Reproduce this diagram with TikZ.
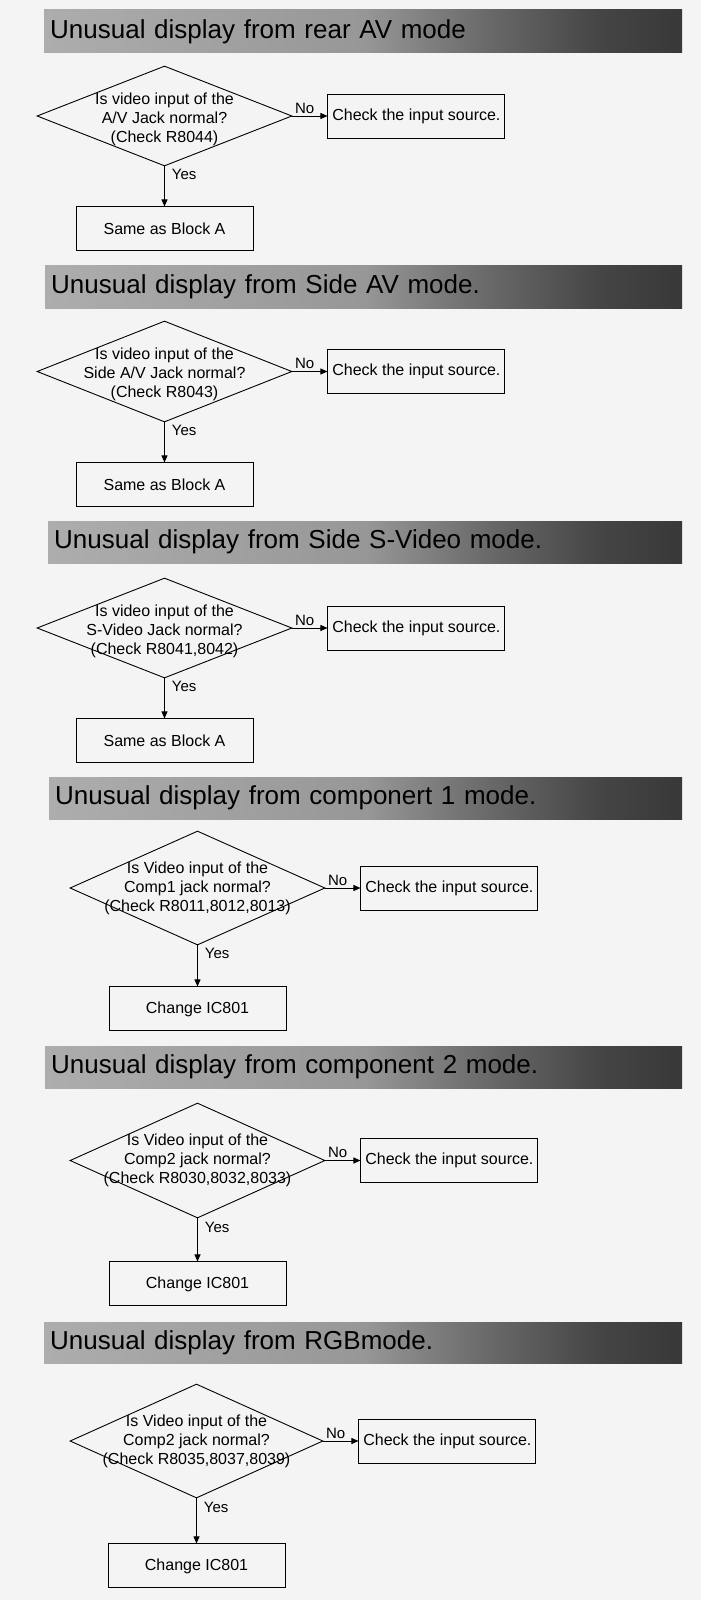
\documentclass[tikz,border=0pt]{standalone}
\usepackage{fontspec}
\setmainfont{Liberation Sans}
\usepackage{tikz}
\usetikzlibrary{arrows.meta, positioning, shapes.geometric}
\definecolor{pagebg}{HTML}{F4F4F4}
\definecolor{barL}{HTML}{ADADAD}
\definecolor{barM}{HTML}{979797}
\definecolor{barN}{HTML}{686868}
\definecolor{barD}{HTML}{454545}
\definecolor{barR}{HTML}{383838}
\pgfdeclarehorizontalshading{barshade}{100bp}{color(0bp)=(barL); color(25bp)=(barL);
  color(50bp)=(barM); color(60bp)=(barN); color(68.5bp)=(barD); color(75bp)=(barR); color(100bp)=(barR)}
\tikzset{
  hdr/.style  = {anchor=west, shading=barshade, inner xsep=6pt, inner ysep=0pt,
                 align=left, font=\fontsize{26}{28}\selectfont},
  dec/.style  = {diamond, draw, line width=0.9pt, inner sep=0pt, minimum width=255pt},
  qtxt/.style = {align=center, inner sep=0pt, font=\fontsize{16}{19}\selectfont},
  blk/.style  = {draw, line width=0.9pt, minimum width=177pt, minimum height=44pt,
                 inner sep=2pt, font=\fontsize{16}{19}\selectfont},
  flow/.style = {-{Triangle[length=7pt, width=6pt]}, line width=0.9pt},
  lbl/.style  = {font=\fontsize{15}{17}\selectfont, inner sep=2pt}
}

\begin{document}
\begin{tikzpicture}[x=1pt, y=-1pt]
  \fill[pagebg] (0,0) rectangle (701,1600);
  \useasboundingbox (0,0) rectangle (701,1600);

  % rear AV
  \node[hdr, text width=626pt, minimum height=43pt] (h1) at (44,31.5) {Unusual display from rear AV mode};
  \node[dec, minimum height=100pt] (q1) at (164.5,116) {};
  \node[qtxt] (q1t) at ([yshift=-3pt]q1.center) {Is video input of the\\A/V Jack normal?\\(Check R8044)};
  \node[blk, right=35pt of q1] (c1) {Check the input source.};
  \node[blk, below=40pt of q1] (r1) {Same as Block A};
  \draw[flow] (q1) -- node[lbl, above, pos=0.35] {No} (c1);
  \draw[flow] (q1) -- node[lbl, right=5pt, pos=0.2] {Yes} (r1);

  % side AV
  \node[hdr, text width=625pt, minimum height=43pt] (h2) at (45,286.5) {Unusual display from Side AV mode.};
  \node[dec, minimum height=101pt] (q2) at (164.5,371.5) {};
  \node[qtxt] (q2t) at ([yshift=-3pt]q2.center) {Is video input of the\\Side A/V Jack normal?\\(Check R8043)};
  \node[blk, right=35pt of q2] (c2) {Check the input source.};
  \node[blk, below=40pt of q2] (r2) {Same as Block A};
  \draw[flow] (q2) -- node[lbl, above, pos=0.35] {No} (c2);
  \draw[flow] (q2) -- node[lbl, right=5pt, pos=0.2] {Yes} (r2);

  % side S-Video
  \node[hdr, text width=622pt, minimum height=42pt] (h3) at (48,542) {Unusual display from Side S-Video mode.};
  \node[dec, minimum height=100pt] (q3) at (164.5,628) {};
  \node[qtxt] (q3t) at ([yshift=-3pt]q3.center) {Is video input of the\\S-Video Jack normal?\\(Check R8041,8042)};
  \node[blk, right=35pt of q3] (c3) {Check the input source.};
  \node[blk, below=40pt of q3] (r3) {Same as Block A};
  \draw[flow] (q3) -- node[lbl, above, pos=0.35] {No} (c3);
  \draw[flow] (q3) -- node[lbl, right=5pt, pos=0.2] {Yes} (r3);

  % component 1
  \node[hdr, text width=621pt, minimum height=42pt] (h4) at (49,798) {Unusual display from componert 1 mode.};
  \node[dec, minimum height=114pt] (q4) at (197.5,888) {};
  \node[qtxt] (q4t) at (q4.center) {Is Video input of the\\Comp1 jack normal?\\(Check R8011,8012,8013)};
  \node[blk, right=35pt of q4] (c4) {Check the input source.};
  \node[blk, below=41pt of q4] (r4) {Change IC801};
  \draw[flow] (q4) -- node[lbl, above, pos=0.35] {No} (c4);
  \draw[flow] (q4) -- node[lbl, right=5pt, pos=0.2] {Yes} (r4);

  % component 2
  \node[hdr, text width=625pt, minimum height=42pt] (h5) at (45,1067) {Unusual display from component 2 mode.};
  \node[dec, minimum height=115pt] (q5) at (197.5,1160.5) {};
  \node[qtxt] (q5t) at (q5.center) {Is Video input of the\\Comp2 jack normal?\\(Check R8030,8032,8033)};
  \node[blk, right=35pt of q5] (c5) {Check the input source.};
  \node[blk, below=43pt of q5] (r5) {Change IC801};
  \draw[flow] (q5) -- node[lbl, above, pos=0.35] {No} (c5);
  \draw[flow] (q5) -- node[lbl, right=5pt, pos=0.2] {Yes} (r5);

  % RGB
  \node[hdr, text width=626pt, minimum height=41pt] (h6) at (44,1342.5) {Unusual display from RGBmode.};
  \node[dec, minimum width=253pt, minimum height=114pt] (q6) at (196.5,1441) {};
  \node[qtxt] (q6t) at (q6.center) {Is Video input of the\\Comp2 jack normal?\\(Check R8035,8037,8039)};
  \node[blk, right=35pt of q6] (c6) {Check the input source.};
  \node[blk, below=45pt of q6] (r6) {Change IC801};
  \draw[flow] (q6) -- node[lbl, above, pos=0.35] {No} (c6);
  \draw[flow] (q6) -- node[lbl, right=5pt, pos=0.2] {Yes} (r6);
\end{tikzpicture}
\end{document}
